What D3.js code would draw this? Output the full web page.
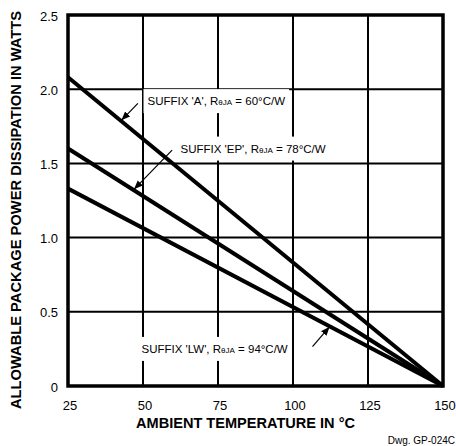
<!DOCTYPE html>
<html>
<head>
<meta charset="utf-8">
<script src="https://cdn.jsdelivr.net/npm/d3@7"></script>
<style>
  body { margin: 0; background: #fff; }
  svg { display: block; font-family: "Liberation Sans", Arial, sans-serif; }
</style>
</head>
<body>
<div id="chart"></div>
<script>
// Data
var xTicks = [25, 50, 75, 100, 125, 150];
var yTicks = [0, 0.5, 1.0, 1.5, 2.0, 2.5];
var yTickLabels = ["0", "0.5", "1.0", "1.5", "2.0", "2.5"];

var seriesNames = ["A", "EP", "LW"];
var seriesRja = [60, 78, 94];
var seriesTemps = [25, 150];
var seriesA = [2.08, 0];
var seriesEP = [1.60, 0];
var seriesLW = [1.33, 0];

// label position [x, y] in data units, arrow tail and tip in data units
var labelPos = [[51.5, 1.92], [62.5, 1.6], [49.5, 0.25]];
var arrowTail = [[48.3, 1.905], [59.7, 1.59], [106.5, 0.265]];
var arrowTip = [[42.8, 1.79], [47.0, 1.325], [112.2, 0.40]];

var width = 456, height = 446;
var margin = { top: 15, right: 13, bottom: 60, left: 68 };

var svg = d3.select('#chart').append('svg')
  .attr('width', width)
  .attr('height', height);

var x = d3.scaleLinear().domain([25, 150]).range([margin.left, width - margin.right]);
var y = d3.scaleLinear().domain([0, 2.5]).range([height - margin.bottom, margin.top]);

// grid lines
var grid = svg.append('g').attr('class', 'grid');
grid.selectAll('.vgrid')
  .data(xTicks.slice(1, -1))
  .enter()
  .append('line')
  .attr('x1', function (d) { return x(d); })
  .attr('x2', function (d) { return x(d); })
  .attr('y1', y(0))
  .attr('y2', y(2.5))
  .attr('stroke', '#000')
  .attr('stroke-width', 2);
grid.selectAll('.hgrid')
  .data(yTicks.slice(1, -1))
  .enter()
  .append('line')
  .attr('x1', x(25))
  .attr('x2', x(150))
  .attr('y1', function (d) { return y(d); })
  .attr('y2', function (d) { return y(d); })
  .attr('stroke', '#000')
  .attr('stroke-width', 2);

// labels with white backing that breaks the grid
var labels = svg.append('g').attr('class', 'labels');
seriesNames.forEach(function (name, i) {
  var g = labels.append('g');
  var t = g.append('text')
    .attr('x', x(labelPos[i][0]))
    .attr('y', y(labelPos[i][1]))
    .attr('dy', '0.35em')
    .attr('font-size', 11.5)
    .attr('fill', '#000');
  t.append('tspan').text("SUFFIX '" + name + "', R");
  t.append('tspan').attr('font-size', 8).text('θJA');
  t.append('tspan').text(' = ' + seriesRja[i] + '°C/W');
  var bb = t.node().getBBox();
  g.insert('rect', 'text')
    .attr('x', bb.x - 4)
    .attr('y', bb.y - 6)
    .attr('width', bb.width + 8)
    .attr('height', bb.height + 12)
    .attr('fill', '#fff');
});

// frame
svg.append('rect')
  .attr('x', x(25))
  .attr('y', y(2.5))
  .attr('width', x(150) - x(25))
  .attr('height', y(0) - y(2.5))
  .attr('fill', 'none')
  .attr('stroke', '#000')
  .attr('stroke-width', 3.5);

// derating lines
var line = d3.line()
  .x(function (d) { return x(d[0]); })
  .y(function (d) { return y(d[1]); });
[seriesA, seriesEP, seriesLW].forEach(function (vals) {
  svg.append('path')
    .datum(seriesTemps.map(function (t, j) { return [t, vals[j]]; }))
    .attr('d', line)
    .attr('fill', 'none')
    .attr('stroke', '#000')
    .attr('stroke-width', 4);
});

// arrows
svg.append('defs').append('marker')
  .attr('id', 'arrowhead')
  .attr('viewBox', '0 0 10 10')
  .attr('refX', 10)
  .attr('refY', 5)
  .attr('markerWidth', 9)
  .attr('markerHeight', 9)
  .attr('markerUnits', 'userSpaceOnUse')
  .attr('orient', 'auto')
  .append('path')
  .attr('d', 'M0,1 L10,5 L0,9 z')
  .attr('fill', '#000');

seriesNames.forEach(function (_, i) {
  svg.append('line')
    .attr('x1', x(arrowTail[i][0]))
    .attr('y1', y(arrowTail[i][1]))
    .attr('x2', x(arrowTip[i][0]))
    .attr('y2', y(arrowTip[i][1]))
    .attr('stroke', '#000')
    .attr('stroke-width', 1.2)
    .attr('marker-end', 'url(#arrowhead)');
});

// tick labels
svg.append('g')
  .selectAll('text')
  .data(xTicks)
  .enter()
  .append('text')
  .attr('x', function (d) { return x(d) + 2; })
  .attr('y', y(0) + 19)
  .attr('dy', '0.35em')
  .attr('text-anchor', 'middle')
  .attr('font-size', 13)
  .text(function (d) { return d; });

svg.append('g')
  .selectAll('text')
  .data(yTicks)
  .enter()
  .append('text')
  .attr('x', x(25) - 10)
  .attr('y', function (d) { return y(d) + 1; })
  .attr('dy', '0.35em')
  .attr('text-anchor', 'end')
  .attr('font-size', 13)
  .text(function (_, i) { return yTickLabels[i]; });

// axis titles
svg.append('text')
  .attr('x', 245.5)
  .attr('y', 423)
  .attr('dy', '0.35em')
  .attr('text-anchor', 'middle')
  .attr('font-size', 14.5)
  .attr('font-weight', 'bold')
  .attr('textLength', 219)
  .attr('lengthAdjust', 'spacingAndGlyphs')
  .text('AMBIENT TEMPERATURE IN °C');

svg.append('text')
  .attr('transform', 'translate(16,' + 210 + ') rotate(-90)')
  .attr('dy', '0.35em')
  .attr('text-anchor', 'middle')
  .attr('font-size', 14)
  .attr('font-weight', 'bold')
  .attr('textLength', 398)
  .attr('lengthAdjust', 'spacingAndGlyphs')
  .text('ALLOWABLE PACKAGE POWER DISSIPATION IN WATTS');

svg.append('text')
  .attr('x', 455)
  .attr('y', 440)
  .attr('dy', '0.35em')
  .attr('text-anchor', 'end')
  .attr('font-size', 10)
  .text('Dwg. GP-024C');
</script>
</body>
</html>
